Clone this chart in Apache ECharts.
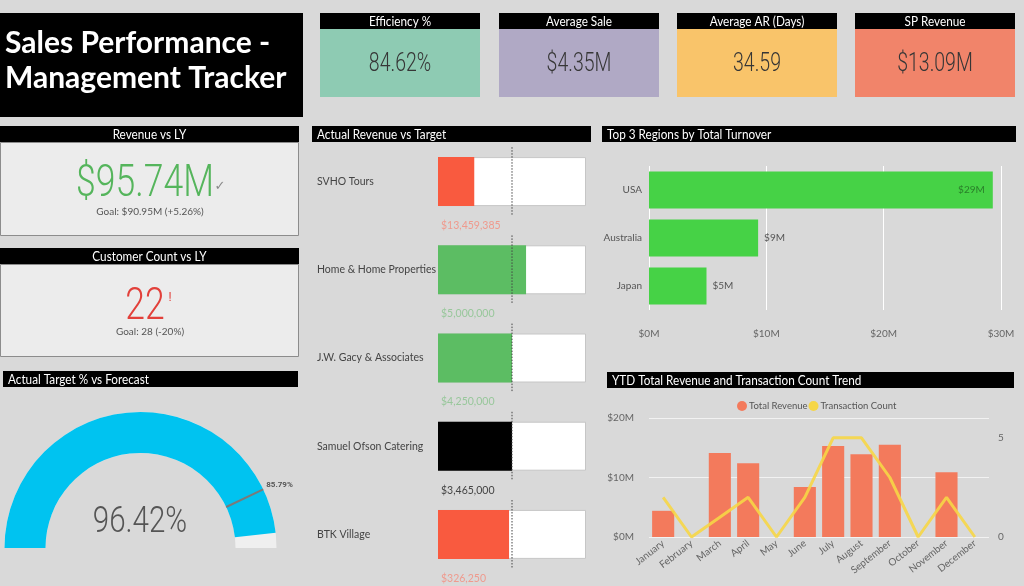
<!DOCTYPE html>
<html><head><meta charset="utf-8">
<script src="https://cdn.jsdelivr.net/npm/echarts@6/dist/echarts.min.js"></script>
<style>html,body{margin:0;padding:0;background:#d9d9d9}#c{width:1024px;height:586px}</style>
</head><body><div id="c"></div>
<script>
// ---- data ----
const titleLines = ['Sales Performance -', 'Management Tracker'];
const kpiTitles = ['Efficiency %', 'Average Sale', 'Average AR (Days)', 'SP Revenue'];
const kpiValues = ['84.62%', '$4.35M', '34.59', '$13.09M'];
const kpiColors = ['#8ecbb3', '#b0a9c5', '#f9c46a', '#f1846a'];

const revenueVsLY = { title: 'Revenue vs LY', value: '$95.74M', goal: 'Goal: $90.95M (+5.26%)' };
const customerVsLY = { title: 'Customer Count vs LY', value: '22', goal: 'Goal: 28 (-20%)' };

const gaugeActual = [96.42];
const gaugeTarget = [85.79];

const customers = ['SVHO Tours', 'Home & Home Properties', 'J.W. Gacy & Associates', 'Samuel Ofson Catering', 'BTK Village'];
const actualToTarget = [0.49, 1.19, 1.0, 1.0, 0.96];
const customerAmounts = ['$13,459,385', '$5,000,000', '$4,250,000', '$3,465,000', '$326,250'];
const customerBarColors = ['#f95a3f', '#5cbd63', '#5cbd63', '#000000', '#f95a3f'];
const customerLabelColors = ['#ef9a8e', '#98c79b', '#98c79b', '#444444', '#ef9a8e'];

const regions = ['USA', 'Australia', 'Japan'];
const regionTurnover = [29.3, 9.3, 4.9];

const months = ['January','February','March','April','May','June','July','August','September','October','November','December'];
const monthRevenue = [4.4, 0, 14.1, 12.4, 0, 8.4, 15.3, 13.9, 15.5, 0, 10.9, 0];
const monthTransactions = [2, 0, 1, 2, 0, 2, 5, 5, 3, 0, 2, 0];

// ---- helpers ----
const FONT = 'Lato, "Open Sans", sans-serif';
const NUM = 'Roboto, sans-serif';
const g = [];
function rect(x, y, w, h, fill, stroke) {
  g.push({ type: 'rect', z: 0, shape: { x, y, width: w, height: h },
    style: { fill, stroke: stroke || null, lineWidth: stroke ? 1 : 0 } });
}
function text(x, y, t, fill, font, align, extra) {
  g.push(Object.assign({ type: 'text', z: 100, x, y,
    style: { text: t, fill, font, textAlign: align || 'center', align: align || 'center',
      textVerticalAlign: 'middle', verticalAlign: 'middle' } }, extra || {}));
}
function header(x, y, w, t, center) {
  rect(x, y, w, 16, '#000');
  text(center ? x + w / 2 : x + 5, y + 8.5, t, '#fff', '13.5px ' + FONT, center ? 'center' : 'left', { scaleX: 0.87 });
}

// title block
rect(0, 13, 303, 104, '#000');
text(5, 43, titleLines[0], '#fff', 'bold 30px ' + FONT, 'left');
text(5, 78, titleLines[1], '#fff', 'bold 30px ' + FONT, 'left');

// KPI cards
const kpiX = [320, 499, 677, 855];
kpiTitles.forEach((t, i) => {
  rect(kpiX[i], 29, 160, 68, kpiColors[i]);
  header(kpiX[i], 13, 160, t, true);
  text(kpiX[i] + 80, 65, kpiValues[i], '#363636', '300 25px ' + NUM, 'center', { scaleX: 0.78 });
});

// Revenue vs LY card
rect(0.5, 142.5, 298, 93, '#ececec', '#8c8c8c');
header(0, 126, 299, revenueVsLY.title, true);
text(145, 185, revenueVsLY.value, '#55b55c', '300 45px ' + NUM, 'center', { scaleX: 0.79 });
text(220, 187, '✓', '#888', '13px DejaVu Sans', 'center');
text(150, 212, revenueVsLY.goal, '#555', '10px ' + FONT, 'center');

// Customer Count card
rect(0.5, 264.5, 298, 92, '#ececec', '#8c8c8c');
header(0, 248, 299, customerVsLY.title, true);
text(145, 308, customerVsLY.value, '#e2403a', '300 45px ' + NUM, 'center', { scaleX: 0.79 });
text(170, 298, '!', '#e2403a', '12px ' + NUM, 'center');
text(150, 332, customerVsLY.goal, '#555', '10px ' + FONT, 'center');

// gauge header + value
header(3, 371, 295, 'Actual Target % vs Forecast', false);
text(140, 523, gaugeActual[0].toFixed(2) + '%', '#555', '300 36px ' + NUM, 'center', { scaleX: 0.82 });

// other headers
header(312, 126, 279, 'Actual Revenue vs Target', false);
header(602, 126, 414, 'Top 3 Regions by Total Turnover', false);
header(607, 372, 407, 'YTD Total Revenue and Transaction Count Trend', false);

const axisTxt = { fontFamily: FONT, fontSize: 10, color: '#666' };

const option = {
  backgroundColor: '#d9d9d9',
  animation: false,
  textStyle: { fontFamily: FONT },
  graphic: { elements: g },
  legend: {
    data: ['Total Revenue', 'Transaction Count'], icon: 'circle', left: 732, top: 396,
    itemWidth: 10, itemHeight: 10, itemGap: 1,
    textStyle: { fontFamily: FONT, fontSize: 9.5, color: '#555', padding: [0, 0, 0, -3] }
  },
  grid: [
    { left: 438, width: 148, top: 137.5, height: 441 },
    { left: 649, right: 23, top: 166, height: 144 },
    { left: 649, right: 35, top: 418, bottom: 49 }
  ],
  xAxis: [
    { gridIndex: 0, type: 'value', min: 0, max: 2, show: false },
    { gridIndex: 1, type: 'value', min: 0, max: 30, interval: 10,
      axisLine: { show: false }, axisTick: { show: false },
      splitLine: { lineStyle: { color: '#ffffff', width: 1 } },
      axisLabel: Object.assign({ margin: 19, formatter: v => '$' + v + 'M' }, axisTxt) },
    { gridIndex: 2, type: 'category', data: months,
      axisLine: { show: false }, axisTick: { show: false },
      axisLabel: Object.assign({ rotate: 38, interval: 0, margin: 5 }, axisTxt) }
  ],
  yAxis: [
    { gridIndex: 0, type: 'category', data: customers, inverse: true,
      axisLine: { show: false }, axisTick: { show: false },
      axisLabel: { align: 'left', margin: 121, fontFamily: FONT, fontSize: 10.5, color: '#444' } },
    { gridIndex: 1, type: 'category', data: regions, inverse: true,
      axisLine: { show: false }, axisTick: { show: false },
      axisLabel: Object.assign({}, axisTxt, { margin: 7, color: '#555' }) },
    { gridIndex: 2, type: 'value', min: 0, max: 20, interval: 10,
      axisLine: { show: false }, axisTick: { show: false },
      splitLine: { lineStyle: { color: '#f2f2f2', width: 1 } },
      axisLabel: Object.assign({ margin: 15, formatter: v => '$' + v + 'M' }, axisTxt) },
    { gridIndex: 2, type: 'value', min: 0, max: 6, interval: 5, position: 'right',
      axisLine: { show: false }, axisTick: { show: false }, splitLine: { show: false },
      axisLabel: Object.assign({ margin: 9, showMaxLabel: false }, axisTxt) }
  ],
  series: [
    // bullet background
    { type: 'bar', xAxisIndex: 0, yAxisIndex: 0, barWidth: 49, barGap: '-100%', silent: true,
      data: customers.map(() => 2),
      itemStyle: { color: '#ffffff', borderColor: '#c6c6c6', borderWidth: 1 } },
    // bullet actual
    { type: 'bar', xAxisIndex: 0, yAxisIndex: 0, barWidth: 49, barGap: '-100%', z: 3,
      data: actualToTarget.map((v, i) => ({ value: v, itemStyle: { color: customerBarColors[i] } })) },
    // target markers + amounts
    { type: 'custom', xAxisIndex: 0, yAxisIndex: 0, z: 5,
      data: customers.map((c, i) => [1, i]),
      renderItem: (params, api) => {
        const i = params.dataIndex;
        const p = api.coord([api.value(0), i]);
        const x0 = api.coord([0, i])[0];
        const band = api.size([0, 1])[1];
        return { type: 'group', children: [
          { type: 'line', shape: { x1: p[0], y1: p[1] - band * 0.39, x2: p[0], y2: p[1] + band * 0.39 },
            style: { stroke: '#444', lineWidth: 1, lineDash: [1.5, 1.5] } },
          { type: 'text', style: { text: customerAmounts[i], x: x0 + 3, y: p[1] + band * 0.5,
              fill: customerLabelColors[i], font: '10.5px ' + FONT, align: 'left', verticalAlign: 'middle',
              textAlign: 'left', textVerticalAlign: 'middle' } }
        ] };
      } },
    // regions
    { type: 'bar', xAxisIndex: 1, yAxisIndex: 1, barWidth: 37,
      itemStyle: { color: '#46d246' },
      data: regionTurnover.map(v => ({ value: v,
        label: v > 20
          ? { show: true, position: 'insideRight', distance: 8, color: '#2a7f2a' }
          : { show: true, position: 'right', distance: 6, color: '#555' } })),
      label: { show: true, fontFamily: FONT, fontSize: 10, formatter: p => '$' + Math.round(p.value) + 'M' } },
    // combo
    { name: 'Total Revenue', type: 'bar', xAxisIndex: 2, yAxisIndex: 2, barCategoryGap: '22%',
      itemStyle: { color: '#f37a5c' }, data: monthRevenue },
    { name: 'Transaction Count', type: 'line', xAxisIndex: 2, yAxisIndex: 3, symbol: 'none',
      itemStyle: { color: '#f6d646' }, lineStyle: { width: 3, color: '#f6d646', opacity: 0.9 },
      data: monthTransactions },
    // gauge
    { type: 'gauge', center: [140.5, 548], radius: 136, startAngle: 180, endAngle: 0, min: 0, max: 100,
      axisLine: { lineStyle: { width: 41, color: [[1, '#efefef']] } },
      progress: { show: true, width: 41, itemStyle: { color: '#00c3f0' } },
      pointer: { show: false }, anchor: { show: false }, axisTick: { show: false }, splitLine: { show: false },
      axisLabel: { show: false }, title: { show: false }, detail: { show: false },
      data: [{ value: gaugeActual[0] }] },
    { type: 'gauge', center: [140.5, 548], radius: 136, startAngle: 180, endAngle: 0, min: 0, max: 100, z: 4,
      axisLine: { show: false }, progress: { show: false },
      pointer: { show: true, icon: 'rect', length: 41, width: 2, offsetCenter: [0, -95],
        itemStyle: { color: '#7a7a7a' } },
      anchor: { show: false }, axisTick: { show: false }, splitLine: { show: false },
      axisLabel: { show: false }, title: { show: false },
      detail: { show: true, offsetCenter: [139, -63], fontSize: 8, color: '#555', fontFamily: NUM,
        formatter: v => v.toFixed(2) + '%' },
      data: [{ value: gaugeTarget[0] }] }
  ]
};
echarts.init(document.getElementById('c')).setOption(option);
</script></body></html>
